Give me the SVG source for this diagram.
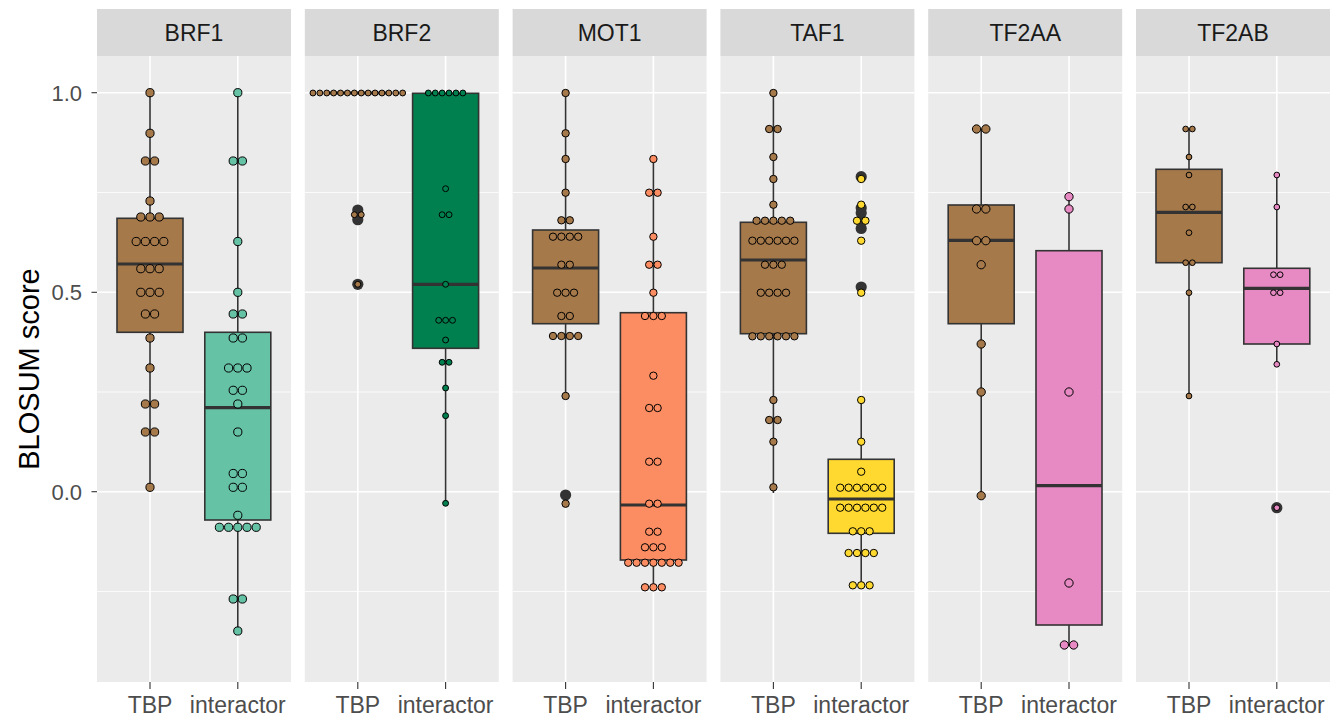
<svg xmlns="http://www.w3.org/2000/svg" width="1332" height="719" viewBox="0 0 1332 719">
<style>
.bg{fill:#EBEBEB}
.strip{fill:#D9D9D9}
.gmaj{stroke:#FFFFFF;stroke-width:1.6;fill:none}
.gmin{stroke:#FFFFFF;stroke-width:0.8;fill:none}
.st{font-family:"Liberation Sans",Arial,sans-serif;font-size:23px;fill:#1A1A1A;text-anchor:middle}
.ax{font-family:"Liberation Sans",Arial,sans-serif;font-size:23px;fill:#4D4D4D}
.ay{font-family:"Liberation Sans",Arial,sans-serif;font-size:22px;fill:#4D4D4D;text-anchor:end}
.ttl{font-family:"Liberation Sans",Arial,sans-serif;font-size:29px;fill:#000000;text-anchor:middle}
.tick{stroke:#333333;stroke-width:1.1}
.box{stroke:#333333;stroke-width:1.6}
.wh{stroke:#333333;stroke-width:1.6}
.med{stroke:#333333;stroke-width:3.2}
.out{fill:#333333}
.d circle{stroke:#000000;stroke-width:1}
.tbp{fill:#A6794B}
.c1{fill:#66C2A5}
.c2{fill:#01804F}
.c3{fill:#FC8D62}
.c4{fill:#FFD92F}
.c5{fill:#E78AC3}
</style>

<!-- axis title and y labels -->
<g id="yaxis">
<text class="ttl" transform="translate(39,369) rotate(-90)">BLOSUM score</text>
<text class="ay" x="82" y="100.5">1.0</text>
<text class="ay" x="82" y="300.1">0.5</text>
<text class="ay" x="82" y="499.5">0.0</text>
<line class="tick" x1="91.5" y1="92.7" x2="97" y2="92.7"/>
<line class="tick" x1="91.5" y1="292.3" x2="97" y2="292.3"/>
<line class="tick" x1="91.5" y1="491.7" x2="97" y2="491.7"/>
</g>

<!-- panel backgrounds, strips, grids, x labels -->
<g id="panels">
<g id="frame-BRF1" transform="translate(97,0)">
<rect class="strip" x="0" y="9" width="194" height="47"/>
<text class="st" x="97" y="41">BRF1</text>
<rect class="bg" x="0" y="56" width="194" height="626"/>
<path class="gmin" d="M0 192.5H194M0 392H194M0 591.5H194"/>
<path class="gmaj" d="M0 92.7H194M0 292.3H194M0 491.7H194M53 56V682M140.8 56V682"/>
<path class="tick" d="M53 682V689M140.8 682V689"/>
<text class="ax" x="53" y="713" text-anchor="middle">TBP</text>
<text class="ax" x="140.8" y="713" text-anchor="middle">interactor</text>
</g>
<g id="frame-BRF2" transform="translate(304.8,0)">
<rect class="strip" x="0" y="9" width="194" height="47"/>
<text class="st" x="97" y="41">BRF2</text>
<rect class="bg" x="0" y="56" width="194" height="626"/>
<path class="gmin" d="M0 192.5H194M0 392H194M0 591.5H194"/>
<path class="gmaj" d="M0 92.7H194M0 292.3H194M0 491.7H194M53 56V682M140.8 56V682"/>
<path class="tick" d="M53 682V689M140.8 682V689"/>
<text class="ax" x="53" y="713" text-anchor="middle">TBP</text>
<text class="ax" x="140.8" y="713" text-anchor="middle">interactor</text>
</g>
<g id="frame-MOT1" transform="translate(512.6,0)">
<rect class="strip" x="0" y="9" width="194" height="47"/>
<text class="st" x="97" y="41">MOT1</text>
<rect class="bg" x="0" y="56" width="194" height="626"/>
<path class="gmin" d="M0 192.5H194M0 392H194M0 591.5H194"/>
<path class="gmaj" d="M0 92.7H194M0 292.3H194M0 491.7H194M53 56V682M140.8 56V682"/>
<path class="tick" d="M53 682V689M140.8 682V689"/>
<text class="ax" x="53" y="713" text-anchor="middle">TBP</text>
<text class="ax" x="140.8" y="713" text-anchor="middle">interactor</text>
</g>
<g id="frame-TAF1" transform="translate(720.4,0)">
<rect class="strip" x="0" y="9" width="194" height="47"/>
<text class="st" x="97" y="41">TAF1</text>
<rect class="bg" x="0" y="56" width="194" height="626"/>
<path class="gmin" d="M0 192.5H194M0 392H194M0 591.5H194"/>
<path class="gmaj" d="M0 92.7H194M0 292.3H194M0 491.7H194M53 56V682M140.8 56V682"/>
<path class="tick" d="M53 682V689M140.8 682V689"/>
<text class="ax" x="53" y="713" text-anchor="middle">TBP</text>
<text class="ax" x="140.8" y="713" text-anchor="middle">interactor</text>
</g>
<g id="frame-TF2AA" transform="translate(928.2,0)">
<rect class="strip" x="0" y="9" width="194" height="47"/>
<text class="st" x="97" y="41">TF2AA</text>
<rect class="bg" x="0" y="56" width="194" height="626"/>
<path class="gmin" d="M0 192.5H194M0 392H194M0 591.5H194"/>
<path class="gmaj" d="M0 92.7H194M0 292.3H194M0 491.7H194M53 56V682M140.8 56V682"/>
<path class="tick" d="M53 682V689M140.8 682V689"/>
<text class="ax" x="53" y="713" text-anchor="middle">TBP</text>
<text class="ax" x="140.8" y="713" text-anchor="middle">interactor</text>
</g>
<g id="frame-TF2AB" transform="translate(1136,0)">
<rect class="strip" x="0" y="9" width="194" height="47"/>
<text class="st" x="97" y="41">TF2AB</text>
<rect class="bg" x="0" y="56" width="194" height="626"/>
<path class="gmin" d="M0 192.5H194M0 392H194M0 591.5H194"/>
<path class="gmaj" d="M0 92.7H194M0 292.3H194M0 491.7H194M53 56V682M140.8 56V682"/>
<path class="tick" d="M53 682V689M140.8 682V689"/>
<text class="ax" x="53" y="713" text-anchor="middle">TBP</text>
<text class="ax" x="140.8" y="713" text-anchor="middle">interactor</text>
</g>
</g>

<!-- ===== BRF1 ===== -->
<g id="BRF1-TBP" transform="translate(150,0)">
<line class="wh" x1="0" y1="92.7" x2="0" y2="490"/>
<rect class="box tbp" x="-33" y="218.3" width="66" height="114"/>
<line class="med" x1="-33" y1="264" x2="33" y2="264"/>
<g class="d tbp">
<circle cx="0" cy="92.7" r="4.1"/>
<circle cx="0" cy="133.3" r="4.1"/>
<circle cx="-4.6" cy="161" r="4.1"/><circle cx="4.6" cy="161" r="4.1"/>
<circle cx="0" cy="201" r="4.1"/>
<circle cx="-9.2" cy="217" r="4.1"/><circle cx="0" cy="217" r="4.1"/><circle cx="9.2" cy="217" r="4.1"/>
<circle cx="-13.8" cy="241.5" r="4.1"/><circle cx="-4.6" cy="241.5" r="4.1"/><circle cx="4.6" cy="241.5" r="4.1"/><circle cx="13.8" cy="241.5" r="4.1"/>
<circle cx="-9.2" cy="268.7" r="4.1"/><circle cx="0" cy="268.7" r="4.1"/><circle cx="9.2" cy="268.7" r="4.1"/>
<circle cx="-9.2" cy="292.3" r="4.1"/><circle cx="0" cy="292.3" r="4.1"/><circle cx="9.2" cy="292.3" r="4.1"/>
<circle cx="-4.6" cy="314" r="4.1"/><circle cx="4.6" cy="314" r="4.1"/>
<circle cx="0" cy="338" r="4.1"/>
<circle cx="0" cy="368" r="4.1"/>
<circle cx="-4.6" cy="404" r="4.1"/><circle cx="4.6" cy="404" r="4.1"/>
<circle cx="-4.6" cy="432" r="4.1"/><circle cx="4.6" cy="432" r="4.1"/>
<circle cx="0" cy="487.3" r="4.1"/>
</g>
</g>
<g id="BRF1-interactor" transform="translate(237.8,0)">
<line class="wh" x1="0" y1="92.7" x2="0" y2="631"/>
<rect class="box c1" x="-33" y="332.3" width="66" height="187.7"/>
<line class="med" x1="-33" y1="407.7" x2="33" y2="407.7"/>
<g class="d c1">
<circle cx="0" cy="92.7" r="4.1"/>
<circle cx="-4.6" cy="161" r="4.1"/><circle cx="4.6" cy="161" r="4.1"/>
<circle cx="0" cy="241.5" r="4.1"/>
<circle cx="0" cy="292.3" r="4.1"/>
<circle cx="-4.6" cy="314" r="4.1"/><circle cx="4.6" cy="314" r="4.1"/>
<circle cx="-4.6" cy="338" r="4.1"/><circle cx="4.6" cy="338" r="4.1"/>
<circle cx="-9.2" cy="368" r="4.1"/><circle cx="0" cy="368" r="4.1"/><circle cx="9.2" cy="368" r="4.1"/>
<circle cx="-4.6" cy="390.3" r="4.1"/><circle cx="4.6" cy="390.3" r="4.1"/>
<circle cx="0" cy="404" r="4.1"/>
<circle cx="0" cy="432" r="4.1"/>
<circle cx="-4.6" cy="473.5" r="4.1"/><circle cx="4.6" cy="473.5" r="4.1"/>
<circle cx="-4.6" cy="487.3" r="4.1"/><circle cx="4.6" cy="487.3" r="4.1"/>
<circle cx="0" cy="515.3" r="4.1"/>
<circle cx="-18.4" cy="527.3" r="4.1"/><circle cx="-9.2" cy="527.3" r="4.1"/><circle cx="0" cy="527.3" r="4.1"/><circle cx="9.2" cy="527.3" r="4.1"/><circle cx="18.4" cy="527.3" r="4.1"/>
<circle cx="-4.6" cy="599" r="4.1"/><circle cx="4.6" cy="599" r="4.1"/>
<circle cx="0" cy="631" r="4.1"/>
</g>
</g>

<!-- ===== BRF2 ===== -->
<g id="BRF2-TBP" transform="translate(357.8,0)">
<rect class="box tbp" x="-33" y="93" width="66" height="0.01"/>
<line class="med" x1="-33" y1="93" x2="33" y2="93"/>
<circle class="out" cx="0" cy="210" r="5.6"/>
<circle class="out" cx="0" cy="219.7" r="5.6"/>
<circle class="out" cx="0" cy="284.3" r="5.6"/>
<g class="d tbp">
<circle cx="-44.85" cy="93" r="2.95"/><circle cx="-37.95" cy="93" r="2.95"/><circle cx="-31.05" cy="93" r="2.95"/><circle cx="-24.15" cy="93" r="2.95"/><circle cx="-17.25" cy="93" r="2.95"/><circle cx="-10.35" cy="93" r="2.95"/><circle cx="-3.45" cy="93" r="2.95"/>
<circle cx="3.45" cy="93" r="2.95"/><circle cx="10.35" cy="93" r="2.95"/><circle cx="17.25" cy="93" r="2.95"/><circle cx="24.15" cy="93" r="2.95"/><circle cx="31.05" cy="93" r="2.95"/><circle cx="37.95" cy="93" r="2.95"/><circle cx="44.85" cy="93" r="2.95"/>
<circle cx="-3.45" cy="214.7" r="2.95"/><circle cx="3.45" cy="214.7" r="2.95"/>
<circle cx="0" cy="284.3" r="2.95"/>
</g>
</g>
<g id="BRF2-interactor" transform="translate(445.6,0)">
<line class="wh" x1="0" y1="348.3" x2="0" y2="503.3"/>
<rect class="box c2" x="-33" y="93.3" width="66" height="255"/>
<line class="med" x1="-33" y1="284.3" x2="33" y2="284.3"/>
<g class="d c2">
<circle cx="-17.25" cy="93" r="2.95"/><circle cx="-10.35" cy="93" r="2.95"/><circle cx="-3.45" cy="93" r="2.95"/><circle cx="3.45" cy="93" r="2.95"/><circle cx="10.35" cy="93" r="2.95"/><circle cx="17.25" cy="93" r="2.95"/>
<circle cx="0" cy="188.7" r="2.95"/>
<circle cx="-3.45" cy="214.7" r="2.95"/><circle cx="3.45" cy="214.7" r="2.95"/>
<circle cx="0" cy="284.3" r="2.95"/>
<circle cx="-6.9" cy="320.3" r="2.95"/><circle cx="0" cy="320.3" r="2.95"/><circle cx="6.9" cy="320.3" r="2.95"/>
<circle cx="0" cy="340" r="2.95"/>
<circle cx="-3.45" cy="362.3" r="2.95"/><circle cx="3.45" cy="362.3" r="2.95"/>
<circle cx="0" cy="388" r="2.95"/>
<circle cx="0" cy="415.7" r="2.95"/>
<circle cx="0" cy="503.3" r="2.95"/>
</g>
</g>

<!-- ===== MOT1 ===== -->
<g id="MOT1-TBP" transform="translate(565.6,0)">
<line class="wh" x1="0" y1="93" x2="0" y2="396"/>
<rect class="box tbp" x="-33" y="230" width="66" height="93.7"/>
<line class="med" x1="-33" y1="268" x2="33" y2="268"/>
<circle class="out" cx="0" cy="495" r="5.6"/>
<g class="d tbp">
<circle cx="0" cy="93" r="3.7"/>
<circle cx="0" cy="133.3" r="3.7"/>
<circle cx="0" cy="159" r="3.7"/>
<circle cx="0" cy="192.7" r="3.7"/>
<circle cx="-4.2" cy="220.3" r="3.7"/><circle cx="4.2" cy="220.3" r="3.7"/>
<circle cx="-12.6" cy="236.7" r="3.7"/><circle cx="-4.2" cy="236.7" r="3.7"/><circle cx="4.2" cy="236.7" r="3.7"/><circle cx="12.6" cy="236.7" r="3.7"/>
<circle cx="-4.2" cy="264.7" r="3.7"/><circle cx="4.2" cy="264.7" r="3.7"/>
<circle cx="-8.4" cy="292.7" r="3.7"/><circle cx="0" cy="292.7" r="3.7"/><circle cx="8.4" cy="292.7" r="3.7"/>
<circle cx="-4.2" cy="316" r="3.7"/><circle cx="4.2" cy="316" r="3.7"/>
<circle cx="-12.6" cy="336" r="3.7"/><circle cx="-4.2" cy="336" r="3.7"/><circle cx="4.2" cy="336" r="3.7"/><circle cx="12.6" cy="336" r="3.7"/>
<circle cx="0" cy="396" r="3.7"/>
<circle cx="0" cy="503.7" r="3.7"/>
</g>
</g>
<g id="MOT1-interactor" transform="translate(653.4,0)">
<line class="wh" x1="0" y1="159" x2="0" y2="587.3"/>
<rect class="box c3" x="-33" y="312.7" width="66" height="247.3"/>
<line class="med" x1="-33" y1="505" x2="33" y2="505"/>
<g class="d c3">
<circle cx="0" cy="159" r="3.7"/>
<circle cx="-4.2" cy="192.7" r="3.7"/><circle cx="4.2" cy="192.7" r="3.7"/>
<circle cx="0" cy="236.7" r="3.7"/>
<circle cx="-4.2" cy="264.7" r="3.7"/><circle cx="4.2" cy="264.7" r="3.7"/>
<circle cx="0" cy="292.7" r="3.7"/>
<circle cx="-8.4" cy="316" r="3.7"/><circle cx="0" cy="316" r="3.7"/><circle cx="8.4" cy="316" r="3.7"/>
<circle cx="0" cy="375.7" r="3.7"/>
<circle cx="-4.2" cy="408" r="3.7"/><circle cx="4.2" cy="408" r="3.7"/>
<circle cx="-4.2" cy="461.7" r="3.7"/><circle cx="4.2" cy="461.7" r="3.7"/>
<circle cx="-4.2" cy="503.7" r="3.7"/><circle cx="4.2" cy="503.7" r="3.7"/>
<circle cx="-4.2" cy="531.7" r="3.7"/><circle cx="4.2" cy="531.7" r="3.7"/>
<circle cx="-8.4" cy="547.3" r="3.7"/><circle cx="0" cy="547.3" r="3.7"/><circle cx="8.4" cy="547.3" r="3.7"/>
<circle cx="-25.2" cy="562.7" r="3.7"/><circle cx="-16.8" cy="562.7" r="3.7"/><circle cx="-8.4" cy="562.7" r="3.7"/><circle cx="0" cy="562.7" r="3.7"/><circle cx="8.4" cy="562.7" r="3.7"/><circle cx="16.8" cy="562.7" r="3.7"/><circle cx="25.2" cy="562.7" r="3.7"/>
<circle cx="-8.4" cy="587.3" r="3.7"/><circle cx="0" cy="587.3" r="3.7"/><circle cx="8.4" cy="587.3" r="3.7"/>
</g>
</g>

<!-- ===== TAF1 ===== -->
<g id="TAF1-TBP" transform="translate(773.4,0)">
<line class="wh" x1="0" y1="93" x2="0" y2="493"/>
<rect class="box tbp" x="-33" y="222.3" width="66" height="111.4"/>
<line class="med" x1="-33" y1="260" x2="33" y2="260"/>
<g class="d tbp">
<circle cx="0" cy="93" r="3.7"/>
<circle cx="-4.2" cy="129" r="3.7"/><circle cx="4.2" cy="129" r="3.7"/>
<circle cx="0" cy="157" r="3.7"/>
<circle cx="0" cy="179" r="3.7"/>
<circle cx="0" cy="204.7" r="3.7"/>
<circle cx="-16.8" cy="220.7" r="3.7"/><circle cx="-8.4" cy="220.7" r="3.7"/><circle cx="0" cy="220.7" r="3.7"/><circle cx="8.4" cy="220.7" r="3.7"/><circle cx="16.8" cy="220.7" r="3.7"/>
<circle cx="-21" cy="240.7" r="3.7"/><circle cx="-12.6" cy="240.7" r="3.7"/><circle cx="-4.2" cy="240.7" r="3.7"/><circle cx="4.2" cy="240.7" r="3.7"/><circle cx="12.6" cy="240.7" r="3.7"/><circle cx="21" cy="240.7" r="3.7"/>
<circle cx="-8.4" cy="264.7" r="3.7"/><circle cx="0" cy="264.7" r="3.7"/><circle cx="8.4" cy="264.7" r="3.7"/>
<circle cx="-12.6" cy="292.7" r="3.7"/><circle cx="-4.2" cy="292.7" r="3.7"/><circle cx="4.2" cy="292.7" r="3.7"/><circle cx="12.6" cy="292.7" r="3.7"/>
<circle cx="-21" cy="336.3" r="3.7"/><circle cx="-12.6" cy="336.3" r="3.7"/><circle cx="-4.2" cy="336.3" r="3.7"/><circle cx="4.2" cy="336.3" r="3.7"/><circle cx="12.6" cy="336.3" r="3.7"/><circle cx="21" cy="336.3" r="3.7"/>
<circle cx="0" cy="400" r="3.7"/>
<circle cx="-4.2" cy="420" r="3.7"/><circle cx="4.2" cy="420" r="3.7"/>
<circle cx="0" cy="441.7" r="3.7"/>
<circle cx="0" cy="487.3" r="3.7"/>
</g>
</g>
<g id="TAF1-interactor" transform="translate(861.2,0)">
<line class="wh" x1="0" y1="400" x2="0" y2="585.3"/>
<rect class="box c4" x="-33" y="459.3" width="66" height="74"/>
<line class="med" x1="-33" y1="499" x2="33" y2="499"/>
<circle class="out" cx="0" cy="176.7" r="5.6"/>
<circle class="out" cx="0" cy="208" r="5.6"/>
<circle class="out" cx="0" cy="213" r="5.6"/>
<circle class="out" cx="0" cy="222" r="5.6"/>
<circle class="out" cx="0" cy="228.5" r="5.6"/>
<circle class="out" cx="0" cy="287" r="5.6"/>
<g class="d c4">
<circle cx="0" cy="179" r="3.7"/>
<circle cx="0" cy="204.7" r="3.7"/>
<circle cx="-4.2" cy="220.7" r="3.7"/><circle cx="4.2" cy="220.7" r="3.7"/>
<circle cx="0" cy="240.7" r="3.7"/>
<circle cx="0" cy="292.7" r="3.7"/>
<circle cx="0" cy="400" r="3.7"/>
<circle cx="0" cy="441.7" r="3.7"/>
<circle cx="0" cy="471.7" r="3.7"/>
<circle cx="-21" cy="487.7" r="3.7"/><circle cx="-12.6" cy="487.7" r="3.7"/><circle cx="-4.2" cy="487.7" r="3.7"/><circle cx="4.2" cy="487.7" r="3.7"/><circle cx="12.6" cy="487.7" r="3.7"/><circle cx="21" cy="487.7" r="3.7"/>
<circle cx="-21" cy="507.7" r="3.7"/><circle cx="-12.6" cy="507.7" r="3.7"/><circle cx="-4.2" cy="507.7" r="3.7"/><circle cx="4.2" cy="507.7" r="3.7"/><circle cx="12.6" cy="507.7" r="3.7"/><circle cx="21" cy="507.7" r="3.7"/>
<circle cx="-8.4" cy="531.3" r="3.7"/><circle cx="0" cy="531.3" r="3.7"/><circle cx="8.4" cy="531.3" r="3.7"/>
<circle cx="-12.6" cy="553" r="3.7"/><circle cx="-4.2" cy="553" r="3.7"/><circle cx="4.2" cy="553" r="3.7"/><circle cx="12.6" cy="553" r="3.7"/>
<circle cx="-8.4" cy="585.3" r="3.7"/><circle cx="0" cy="585.3" r="3.7"/><circle cx="8.4" cy="585.3" r="3.7"/>
</g>
</g>

<!-- ===== TF2AA ===== -->
<g id="TF2AA-TBP" transform="translate(981.2,0)">
<line class="wh" x1="0" y1="129" x2="0" y2="495.7"/>
<rect class="box tbp" x="-33" y="205" width="66" height="118.7"/>
<line class="med" x1="-33" y1="240.3" x2="33" y2="240.3"/>
<g class="d tbp">
<circle cx="-4.65" cy="129" r="4.15"/><circle cx="4.65" cy="129" r="4.15"/>
<circle cx="-4.65" cy="209" r="4.15"/><circle cx="4.65" cy="209" r="4.15"/>
<circle cx="-4.65" cy="240.7" r="4.15"/><circle cx="4.65" cy="240.7" r="4.15"/>
<circle cx="0" cy="264.7" r="4.15"/>
<circle cx="0" cy="344" r="4.15"/>
<circle cx="0" cy="392" r="4.15"/>
<circle cx="0" cy="495.7" r="4.15"/>
</g>
</g>
<g id="TF2AA-interactor" transform="translate(1069,0)">
<line class="wh" x1="0" y1="200" x2="0" y2="645"/>
<rect class="box c5" x="-33" y="250.7" width="66" height="374.3"/>
<line class="med" x1="-33" y1="485.7" x2="33" y2="485.7"/>
<g class="d c5">
<circle cx="0" cy="196.7" r="4.15"/>
<circle cx="0" cy="209" r="4.15"/>
<circle cx="0" cy="392" r="4.15"/>
<circle cx="0" cy="583" r="4.15"/>
<circle cx="-4.65" cy="645" r="4.15"/><circle cx="4.65" cy="645" r="4.15"/>
</g>
</g>

<!-- ===== TF2AB ===== -->
<g id="TF2AB-TBP" transform="translate(1189,0)">
<line class="wh" x1="0" y1="129" x2="0" y2="396"/>
<rect class="box tbp" x="-33" y="169.3" width="66" height="93.4"/>
<line class="med" x1="-33" y1="212.3" x2="33" y2="212.3"/>
<g class="d tbp">
<circle cx="-3.35" cy="129" r="2.85"/><circle cx="3.35" cy="129" r="2.85"/>
<circle cx="0" cy="157" r="2.85"/>
<circle cx="0" cy="175" r="2.85"/>
<circle cx="-3.35" cy="207" r="2.85"/><circle cx="3.35" cy="207" r="2.85"/>
<circle cx="0" cy="232.7" r="2.85"/>
<circle cx="-3.35" cy="262.7" r="2.85"/><circle cx="3.35" cy="262.7" r="2.85"/>
<circle cx="0" cy="292.7" r="2.85"/>
<circle cx="0" cy="396" r="2.85"/>
</g>
</g>
<g id="TF2AB-interactor" transform="translate(1276.8,0)">
<line class="wh" x1="0" y1="175" x2="0" y2="364.3"/>
<rect class="box c5" x="-33" y="268.3" width="66" height="75.7"/>
<line class="med" x1="-33" y1="288.3" x2="33" y2="288.3"/>
<circle class="out" cx="0" cy="507.7" r="5.6"/>
<g class="d c5">
<circle cx="0" cy="175" r="2.85"/>
<circle cx="0" cy="207" r="2.85"/>
<circle cx="-3.35" cy="274.7" r="2.85"/><circle cx="3.35" cy="274.7" r="2.85"/>
<circle cx="-3.35" cy="292.7" r="2.85"/><circle cx="3.35" cy="292.7" r="2.85"/>
<circle cx="0" cy="344" r="2.85"/>
<circle cx="0" cy="364.3" r="2.85"/>
<circle cx="0" cy="507.7" r="2.85"/>
</g>
</g>
</svg>
